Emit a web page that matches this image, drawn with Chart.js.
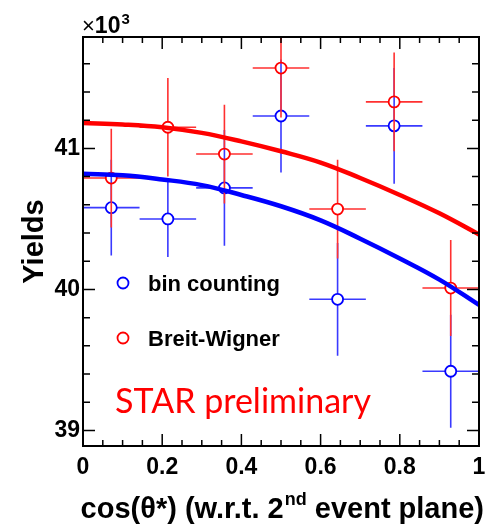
<!DOCTYPE html>
<html lang="en">
<head>
  <meta charset="utf-8">
  <script src="https://cdn.jsdelivr.net/npm/chart.js"></script>
  <title>Yields vs cos(theta*)</title>
  <style>
    html, body { margin: 0; padding: 0; background: #fff; }
    #wrap { width: 495px; height: 528px; position: relative; }
  </style>
</head>
<body>
  <div id="wrap"><canvas id="yieldChart"></canvas></div>
<script>
  // bin centres and half widths (7 bins of cos theta*)
  const binCenters = [0.0714, 0.2143, 0.3571, 0.5, 0.6429, 0.7857, 0.9286];
  const binHalfWidth = [0.0714, 0.0714, 0.0714, 0.0714, 0.0714, 0.0714, 0.0714];

  // yields in units of 10^3
  const binCounting = [40.58, 40.50, 40.72, 41.23, 39.93, 41.16, 39.42];
  const binCountingErr = [0.34, 0.27, 0.41, 0.40, 0.40, 0.41, 0.40];
  const breitWigner = [40.79, 41.15, 40.96, 41.57, 40.57, 41.33, 40.01];
  const breitWignerErr = [0.35, 0.35, 0.35, 0.35, 0.35, 0.35, 0.34];

  // fit curves
  const fitX = [0, 0.1, 0.2, 0.3, 0.4, 0.5, 0.6, 0.7, 0.8, 0.9, 1.0];
  const fitBreitWigner = [41.18, 41.17, 41.15, 41.11, 41.05, 40.98, 40.90, 40.79, 40.67, 40.54, 40.39];
  const fitBinCounting = [40.82, 40.81, 40.78, 40.74, 40.67, 40.59, 40.49, 40.36, 40.22, 40.07, 39.89];

  const xTickLabels = ['0', '0.2', '0.4', '0.6', '0.8', '1'];
  const yTickLabels = [39, 40, 41];

  const BLUE = '#0000ff';
  const RED = '#ff0000';
  const BLUE_BAR = '#3a3aff';
  const RED_BAR = '#ff3030';
  const MARKER_R = 5.5;
  const HELV = '"Liberation Sans", Arial, sans-serif';

  const toXY = (xs, ys) => xs.map((x, i) => ({ x: x, y: ys[i] }));

  // error bars drawn just before each point dataset, leaving a gap at the marker
  const errorBars = {
    id: 'errorBars',
    beforeDatasetDraw(chart, args) {
      const ds = chart.data.datasets[args.index];
      if (!ds.errY) return;
      const { ctx, chartArea } = chart;
      const xs = chart.scales.x, ys = chart.scales.y;
      ctx.save();
      ctx.beginPath();
      ctx.rect(chartArea.left, chartArea.top, chartArea.right - chartArea.left, chartArea.bottom - chartArea.top);
      ctx.clip();
      ctx.strokeStyle = ds.barColor;
      ctx.lineWidth = 1.6;
      ds.data.forEach((p, i) => {
        const px = xs.getPixelForValue(p.x);
        const py = ys.getPixelForValue(p.y);
        const x0 = xs.getPixelForValue(p.x - ds.errX[i]);
        const x1 = xs.getPixelForValue(p.x + ds.errX[i]);
        const y0 = ys.getPixelForValue(p.y + ds.errY[i]);
        const y1 = ys.getPixelForValue(p.y - ds.errY[i]);
        ctx.beginPath();
        ctx.moveTo(x0, py); ctx.lineTo(px - MARKER_R, py);
        ctx.moveTo(px + MARKER_R, py); ctx.lineTo(x1, py);
        ctx.moveTo(px, y0); ctx.lineTo(px, py - MARKER_R);
        ctx.moveTo(px, py + MARKER_R); ctx.lineTo(px, y1);
        ctx.stroke();
      });
      ctx.restore();
    }
  };

  // ROOT style frame, inward ticks, titles, legend and labels
  const decorations = {
    id: 'decorations',
    afterDraw(chart) {
      const { ctx, chartArea: a } = chart;
      const xs = chart.scales.x, ys = chart.scales.y;
      ctx.save();
      ctx.strokeStyle = '#000';
      ctx.lineWidth = 1.5;
      ctx.beginPath();
      // x ticks every 0.05, major every 0.2
      for (let k = 0; k <= 20; k++) {
        const v = k * 0.05;
        const px = xs.getPixelForValue(v);
        const len = (k % 4 === 0) ? 12 : 6;
        ctx.moveTo(px, a.bottom); ctx.lineTo(px, a.bottom - len);
        ctx.moveTo(px, a.top); ctx.lineTo(px, a.top + len);
      }
      // y ticks every 0.2, major every 1
      for (let k = 0; k <= 15; k++) {
        const v = 38.8 + k * 0.2;
        if (v < ys.min || v > ys.max) continue;
        const py = ys.getPixelForValue(v);
        const len = (k % 5 === 1) ? 12 : 7;
        ctx.moveTo(a.left, py); ctx.lineTo(a.left + len, py);
        ctx.moveTo(a.right, py); ctx.lineTo(a.right - len, py);
      }
      ctx.stroke();
      ctx.lineWidth = 2;
      ctx.strokeRect(a.left, a.top, a.right - a.left, a.bottom - a.top);

      // legend
      ctx.lineWidth = 1.8;
      ctx.strokeStyle = BLUE;
      ctx.beginPath(); ctx.arc(123, 283, MARKER_R, 0, Math.PI * 2); ctx.stroke();
      ctx.strokeStyle = RED;
      ctx.beginPath(); ctx.arc(123, 338, MARKER_R, 0, Math.PI * 2); ctx.stroke();
      ctx.fillStyle = '#000';
      ctx.font = 'bold 22px ' + HELV;
      ctx.textBaseline = 'alphabetic';
      ctx.textAlign = 'left';
      ctx.fillText('bin counting', 148, 291);
      ctx.fillText('Breit-Wigner', 148, 346);

      // STAR preliminary
      ctx.fillStyle = RED;
      ctx.font = '34px Lato, "Open Sans", sans-serif';
      ctx.fillText('STAR preliminary', 115, 413);

      // x10^3
      ctx.fillStyle = '#000';
      ctx.font = '22px ' + HELV;
      ctx.fillText('\u00d7', 82, 33);
      let wx = 82 + ctx.measureText('\u00d7').width;
      ctx.font = 'bold 23px ' + HELV;
      ctx.fillText('10', wx, 33);
      wx += ctx.measureText('10').width;
      ctx.font = 'bold 15px ' + HELV;
      ctx.fillText('3', wx + 1, 24);

      // y title
      ctx.save();
      ctx.translate(43, (a.top + a.bottom) / 2);
      ctx.rotate(-Math.PI / 2);
      ctx.textAlign = 'center';
      ctx.font = 'bold 29px ' + HELV;
      ctx.fillText('Yields', 0, 0);
      ctx.restore();

      // x title with superscript
      const big = 'bold 29px ' + HELV;
      const small = 'bold 18px ' + HELV;
      const part1 = 'cos(\u03b8*) (w.r.t. 2', sup = 'nd', part2 = ' event plane)';
      ctx.font = big; const w1 = ctx.measureText(part1).width; const w3 = ctx.measureText(part2).width;
      ctx.font = small; const w2 = ctx.measureText(sup).width;
      let x = 484 - (w1 + w2 + w3 + 1);
      ctx.textAlign = 'left';
      ctx.font = big; ctx.fillText(part1, x, 518); x += w1;
      ctx.font = small; ctx.fillText(sup, x + 1, 505); x += w2 + 1;
      ctx.font = big; ctx.fillText(part2, x, 518);
      ctx.restore();
    }
  };

  new Chart(document.getElementById('yieldChart'), {
    type: 'scatter',
    data: {
      datasets: [
        {
          label: 'fit Breit-Wigner', type: 'line', data: toXY(fitX, fitBreitWigner),
          borderColor: RED, borderWidth: 4.5, pointRadius: 0, tension: 0.4, order: 0, fill: false
        },
        {
          label: 'fit bin counting', type: 'line', data: toXY(fitX, fitBinCounting),
          borderColor: BLUE, borderWidth: 4.5, pointRadius: 0, tension: 0.4, order: 0, fill: false
        },
        {
          label: 'Breit-Wigner', data: toXY(binCenters, breitWigner),
          errX: binHalfWidth, errY: breitWignerErr, barColor: RED_BAR,
          borderColor: RED, backgroundColor: 'rgba(0,0,0,0)', pointRadius: MARKER_R,
          pointBorderWidth: 1.8, order: 1
        },
        {
          label: 'bin counting', data: toXY(binCenters, binCounting),
          errX: binHalfWidth, errY: binCountingErr, barColor: BLUE_BAR,
          borderColor: BLUE, backgroundColor: 'rgba(0,0,0,0)', pointRadius: MARKER_R,
          pointBorderWidth: 1.8, order: 2
        }
      ]
    },
    options: {
      responsive: true,
      maintainAspectRatio: false,
      animation: false,
      layout: { padding: { left: 0, top: 37, right: 16, bottom: 0 } },
      plugins: { legend: { display: false }, tooltip: { enabled: false } },
      scales: {
        x: {
          type: 'linear', min: 0, max: 1,
          grid: { display: false, drawTicks: false, tickLength: 0 }, border: { display: false },
          afterBuildTicks: s => { s.ticks = xTickLabels.map(t => ({ value: parseFloat(t) })); },
          afterFit: s => { s.height = 82; },
          ticks: {
            padding: 8, color: '#000', maxRotation: 0,
            font: { family: HELV, size: 23, weight: 'bold' },
            callback: (v, i) => xTickLabels[i]
          }
        },
        y: {
          type: 'linear', min: 38.89, max: 41.79,
          grid: { display: false, drawTicks: false, tickLength: 0 }, border: { display: false },
          afterBuildTicks: s => { s.ticks = yTickLabels.map(v => ({ value: v })); },
          afterFit: s => { s.width = 83; },
          ticks: {
            padding: 3, color: '#000',
            font: { family: HELV, size: 23, weight: 'bold' },
            callback: v => String(v)
          }
        }
      }
    },
    plugins: [errorBars, decorations]
  });
</script>
</body>
</html>
